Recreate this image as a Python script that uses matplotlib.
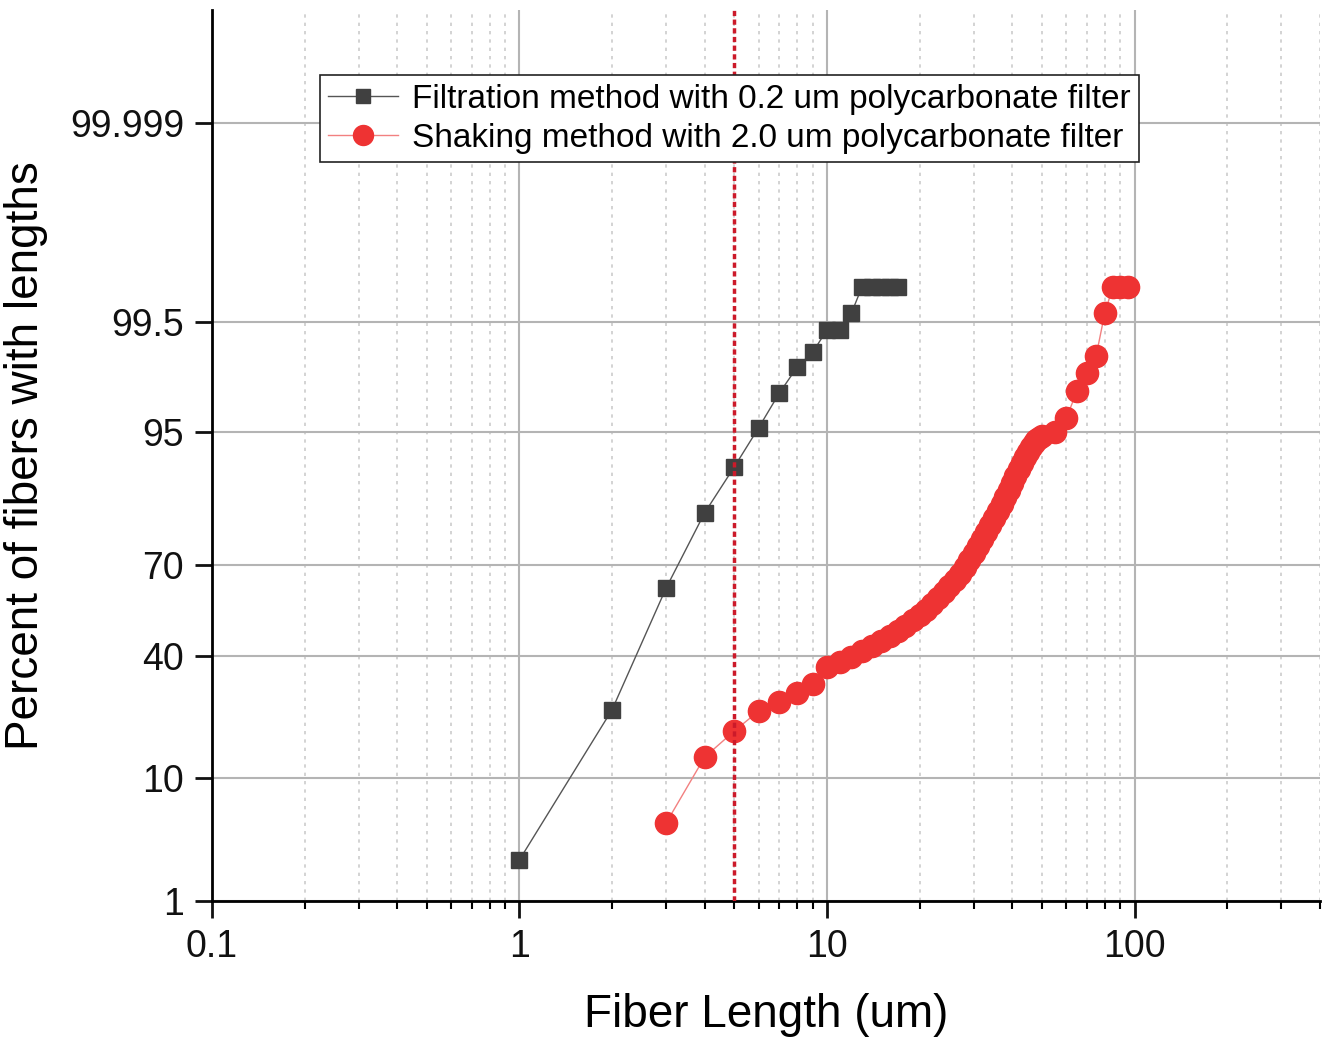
import numpy as np
import matplotlib
matplotlib.use("Agg")
import matplotlib.pyplot as plt
from matplotlib.ticker import LogLocator, NullLocator, FixedLocator, NullFormatter
from statistics import NormalDist

plt.rcParams["font.family"] = ["Liberation Sans", "DejaVu Sans"]

# Filtration method (0.2 um filter)
filt_len = [1, 2, 3, 4, 5, 6, 7, 8, 9, 10, 11, 12, 13, 14, 15, 16, 17]
filt_pct = [2.4, 24.0, 62.8, 83.2, 91.2, 95.4, 97.6, 98.6, 99.0, 99.4, 99.4,
            99.6, 99.8, 99.8, 99.8, 99.8, 99.8]

# Shaking method (2.0 um filter)
shake_len = [3, 4, 5, 6, 7, 8, 9] + list(range(10, 51)) + [55, 60, 65, 70, 75, 80, 85, 90, 95]
shake_pct = [4.8, 13.4, 18.8, 23.7, 26.1, 28.7, 31.3,
             36.6, 38.2, 39.8, 41.8, 43.4, 45.1, 46.8, 48.5, 50.2, 52.2,
             53.9, 55.6, 57.6, 59.6, 61.5, 63.4, 65.3, 67.2, 69.3, 71.4,
             73.3, 75.2, 77.1, 78.9, 80.5, 82.1, 83.6, 85.0, 86.4, 87.6,
             88.8, 89.9, 90.9, 91.7, 92.5, 93.0, 93.6, 94.0, 94.3, 94.5,
             94.7,
             95.0, 96.1, 97.7, 98.4, 98.9, 99.6, 99.8, 99.8, 99.8]

ytick_vals = [1, 10, 40, 70, 95, 99.5, 99.999]
ytick_labels = ["1", "10", "40", "70", "95", "99.5", "99.999"]
xtick_vals = [0.1, 1, 10, 100]
xtick_labels = ["0.1", "1", "10", "100"]
cutoff = 5

# normal probability scale for the y axis
nd = NormalDist()
_ppf = np.vectorize(nd.inv_cdf, otypes=[float])
_cdf = np.vectorize(nd.cdf, otypes=[float])


def forward(p):
    p = np.clip(np.asarray(p, dtype=float), 1e-10, 100 - 1e-10)
    return _ppf(p / 100.0)


def inverse(z):
    return _cdf(np.asarray(z, dtype=float)) * 100.0


fig = plt.figure(figsize=(13.33, 10.45), dpi=100)
ax = fig.add_axes([0.159, 0.1378, 0.831, 0.8522])

ax.set_xscale("log")
ax.set_yscale("function", functions=(forward, inverse))
ax.set_xlim(0.1, 400)
ax.set_ylim(1, 99.999991)

ax.plot(filt_len, filt_pct, color="#555555", lw=1, marker="s", ms=11.5,
        mec="#404040", mfc="#404040", zorder=4,
        label="Filtration method with 0.2 um polycarbonate filter")
ax.plot(shake_len, shake_pct, color="#f28080", lw=1, marker="o", ms=16,
        mec="#ee3333", mfc="#ee3333", zorder=3,
        label="Shaking method with 2.0 um polycarbonate filter")
ax.axvline(cutoff, color="#cc1a2a", lw=2.5, dashes=(1.5, 1.0), zorder=5)

ax.yaxis.set_major_locator(FixedLocator(ytick_vals))
ax.set_yticklabels(ytick_labels)
ax.yaxis.set_minor_locator(NullLocator())
ax.xaxis.set_major_locator(FixedLocator(xtick_vals))
ax.set_xticklabels(xtick_labels)
ax.xaxis.set_minor_locator(LogLocator(base=10, subs=np.arange(2, 10), numticks=20))
ax.xaxis.set_minor_formatter(NullFormatter())

ax.grid(True, which="major", color="#b4b4b4", lw=1.5, zorder=0)
ax.grid(True, which="minor", axis="x", color="#cccccc", lw=1.2, ls=(0, (2, 3)), zorder=0)
ax.set_axisbelow(True)

for s in ["top", "right"]:
    ax.spines[s].set_visible(False)
for s in ["left", "bottom"]:
    ax.spines[s].set_linewidth(2)

ax.tick_params(axis="both", which="major", direction="out", length=12, width=2,
               labelsize=27, pad=8, colors="#111111")
ax.tick_params(axis="x", which="minor", direction="out", length=6, width=1.5)

ax.set_xlabel("Fiber Length (um)", fontsize=33, labelpad=20)
ax.set_ylabel("Percent of fibers with lengths", fontsize=33, labelpad=16)

leg = ax.legend(loc="upper left", bbox_to_anchor=(0.0975, 0.927), borderaxespad=0,
                fontsize=24, fancybox=False, edgecolor="#222222", framealpha=1,
                markerscale=0.9, handlelength=2.1, handletextpad=0.4,
                labelspacing=0.25, borderpad=0.25)
leg.get_frame().set_linewidth(1.2)

fig.savefig("out.png", dpi=100)
